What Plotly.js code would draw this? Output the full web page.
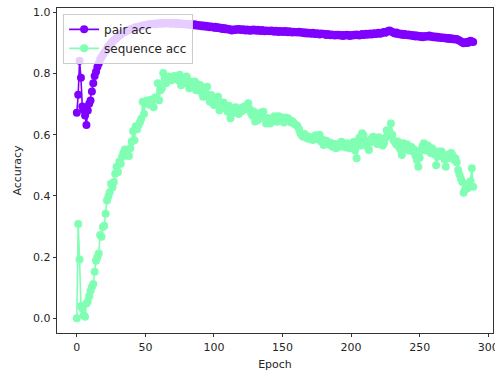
<!DOCTYPE html>
<html>
<head>
<meta charset="utf-8">
<script src="https://cdn.plot.ly/plotly-3.0.1.min.js"></script>
<style>
html,body{margin:0;padding:0;background:#fff;}
#chart{width:495px;height:372px;}
</style>
</head>
<body>
<div id="chart"></div>
<script>
const pairAcc = [
0.672,0.731,0.842,0.786,0.692,0.681,0.663,0.632,0.679,0.701,
0.712,0.741,0.768,0.792,0.806,0.821,0.833,0.846,0.853,0.861,
0.868,0.874,0.881,0.889,0.893,0.899,0.904,0.909,0.912,0.917,
0.921,0.924,0.927,0.931,0.934,0.936,0.938,0.941,0.943,0.944,
0.946,0.947,0.949,0.951,0.952,0.953,0.955,0.955,0.957,0.958,
0.958,0.959,0.961,0.960,0.962,0.962,0.963,0.961,0.964,0.963,
0.964,0.965,0.963,0.965,0.966,0.964,0.965,0.966,0.963,0.965,
0.964,0.966,0.963,0.962,0.965,0.963,0.961,0.964,0.962,0.960,
0.963,0.961,0.959,0.962,0.960,0.958,0.961,0.957,0.959,0.956,
0.958,0.955,0.957,0.954,0.956,0.953,0.955,0.951,0.954,0.952,
0.950,0.953,0.949,0.951,0.948,0.950,0.946,0.949,0.945,0.947,
0.944,0.946,0.943,0.941,0.944,0.942,0.945,0.943,0.946,0.944,
0.942,0.945,0.943,0.941,0.944,0.942,0.940,0.943,0.941,0.944,
0.942,0.940,0.943,0.941,0.939,0.942,0.940,0.938,0.941,0.939,
0.940,0.938,0.941,0.939,0.937,0.940,0.938,0.936,0.939,0.937,
0.938,0.936,0.939,0.937,0.935,0.938,0.936,0.934,0.937,0.935,
0.936,0.934,0.937,0.935,0.933,0.935,0.932,0.934,0.931,0.933,
0.932,0.930,0.933,0.931,0.929,0.932,0.930,0.928,0.931,0.929,
0.930,0.928,0.926,0.929,0.927,0.925,0.928,0.926,0.924,0.927,
0.925,0.927,0.924,0.926,0.923,0.926,0.924,0.927,0.925,0.923,
0.926,0.924,0.927,0.925,0.928,0.926,0.924,0.927,0.929,0.926,
0.928,0.930,0.927,0.929,0.931,0.928,0.930,0.932,0.929,0.931,
0.933,0.930,0.932,0.934,0.936,0.933,0.937,0.939,0.941,0.938,
0.936,0.933,0.931,0.934,0.929,0.931,0.928,0.930,0.926,0.929,
0.927,0.925,0.928,0.924,0.926,0.923,0.925,0.921,0.924,0.922,
0.920,0.923,0.919,0.922,0.920,0.923,0.921,0.924,0.920,0.922,
0.919,0.921,0.918,0.920,0.917,0.919,0.916,0.918,0.915,0.917,
0.914,0.916,0.913,0.915,0.912,0.914,0.911,0.913,0.910,0.908,
0.905,0.902,0.899,0.901,0.903,0.900,0.904,0.907,0.905,0.903
];
const sequenceAcc = [
0.000,0.308,0.192,0.040,0.032,0.010,0.005,0.048,0.055,0.072,
0.090,0.102,0.112,0.152,0.188,0.200,0.212,0.272,0.266,0.298,
0.302,0.342,0.385,0.398,0.412,0.440,0.428,0.445,0.472,0.495,
0.478,0.512,0.505,0.528,0.541,0.552,0.532,0.548,0.530,0.556,
0.578,0.612,0.582,0.628,0.618,0.632,0.641,0.652,0.708,0.668,
0.702,0.712,0.708,0.698,0.714,0.712,0.690,0.722,0.718,0.768,
0.713,0.745,0.752,0.802,0.782,0.768,0.775,0.790,0.785,0.778,
0.786,0.792,0.782,0.788,0.778,0.796,0.762,0.780,0.772,0.768,
0.790,0.778,0.752,0.768,0.760,0.772,0.774,0.745,0.765,0.756,
0.762,0.738,0.724,0.748,0.735,0.757,0.722,0.708,0.730,0.712,
0.697,0.715,0.702,0.724,0.680,0.698,0.688,0.705,0.692,0.690,
0.675,0.695,0.654,0.680,0.686,0.672,0.690,0.678,0.668,0.685,
0.676,0.690,0.682,0.694,0.688,0.703,0.684,0.670,0.662,0.676,
0.643,0.658,0.648,0.666,0.672,0.670,0.675,0.652,0.637,0.655,
0.646,0.637,0.652,0.644,0.660,0.650,0.642,0.660,0.659,0.645,
0.652,0.640,0.656,0.648,0.654,0.648,0.640,0.645,0.638,0.634,
0.632,0.628,0.618,0.605,0.598,0.593,0.602,0.596,0.588,0.594,
0.586,0.588,0.583,0.592,0.598,0.585,0.590,0.600,0.578,0.584,
0.566,0.575,0.580,0.572,0.568,0.574,0.562,0.560,0.570,0.556,
0.565,0.560,0.572,0.577,0.568,0.562,0.558,0.572,0.560,0.556,
0.566,0.572,0.577,0.548,0.523,0.572,0.590,0.565,0.605,0.598,
0.582,0.572,0.560,0.550,0.575,0.588,0.593,0.580,0.585,0.570,
0.592,0.578,0.585,0.565,0.572,0.590,0.615,0.598,0.610,0.637,
0.600,0.582,0.575,0.568,0.578,0.560,0.552,0.534,0.572,0.562,
0.555,0.568,0.548,0.558,0.560,0.545,0.552,0.530,0.517,0.495,
0.525,0.548,0.562,0.572,0.560,0.548,0.565,0.552,0.540,0.556,
0.548,0.535,0.500,0.528,0.545,0.538,0.545,0.532,0.520,0.495,
0.522,0.535,0.528,0.540,0.532,0.518,0.523,0.510,0.485,0.470,
0.457,0.445,0.410,0.420,0.432,0.425,0.440,0.448,0.490,0.430
];
const seriesNames = ['pair acc', 'sequence acc'];
const xTickVals = [0, 50, 100, 150, 200, 250, 300];
const yTickVals = [0.0, 0.2, 0.4, 0.6, 0.8, 1.0];
const yTickText = ['0.0', '0.2', '0.4', '0.6', '0.8', '1.0'];

const epochs = pairAcc.map((_, i) => i);
const font = {family: 'DejaVu Sans, sans-serif', size: 11, color: '#262626'};

const traces = [
  {x: epochs, y: pairAcc, name: seriesNames[0], type: 'scatter', mode: 'lines+markers',
   line: {color: '#8000ff', width: 1.6}, marker: {color: '#8000ff', size: 8}},
  {x: epochs, y: sequenceAcc, name: seriesNames[1], type: 'scatter', mode: 'lines+markers',
   line: {color: '#80ffb4', width: 1.6}, marker: {color: '#80ffb4', size: 8}}
];

const axisCommon = {
  showgrid: false, zeroline: false, showline: true, mirror: true,
  linecolor: '#000', linewidth: 0.8, ticks: 'outside', ticklen: 3.5, tickwidth: 0.8,
  tickcolor: '#000', tickfont: font, automargin: false, ticklabeloverflow: 'allow'
};

const layout = {
  width: 495, height: 372,
  margin: {l: 57, r: 2, t: 8, b: 39},
  paper_bgcolor: '#fff', plot_bgcolor: '#fff',
  font: font,
  showlegend: true,
  legend: {x: 0.014, y: 0.982, xanchor: 'left', yanchor: 'top',
    bgcolor: 'rgba(255,255,255,0.8)', bordercolor: '#cccccc', borderwidth: 1,
    font: {family: 'DejaVu Sans, sans-serif', size: 12, color: '#262626'},
    tracegroupgap: 0, itemwidth: 30},
  xaxis: Object.assign({}, axisCommon, {
    range: [-14.45, 303.45], tickvals: xTickVals, ticktext: xTickVals.map(String),
    title: {text: 'Epoch', font: font, standoff: 7}
  }),
  yaxis: Object.assign({}, axisCommon, {
    range: [-0.0483, 1.0143], tickvals: yTickVals, ticktext: yTickText,
    title: {text: 'Accuracy', font: font, standoff: 9}
  })
};

Plotly.newPlot('chart', traces, layout, {displayModeBar: false, staticPlot: true});
</script>
</body>
</html>
